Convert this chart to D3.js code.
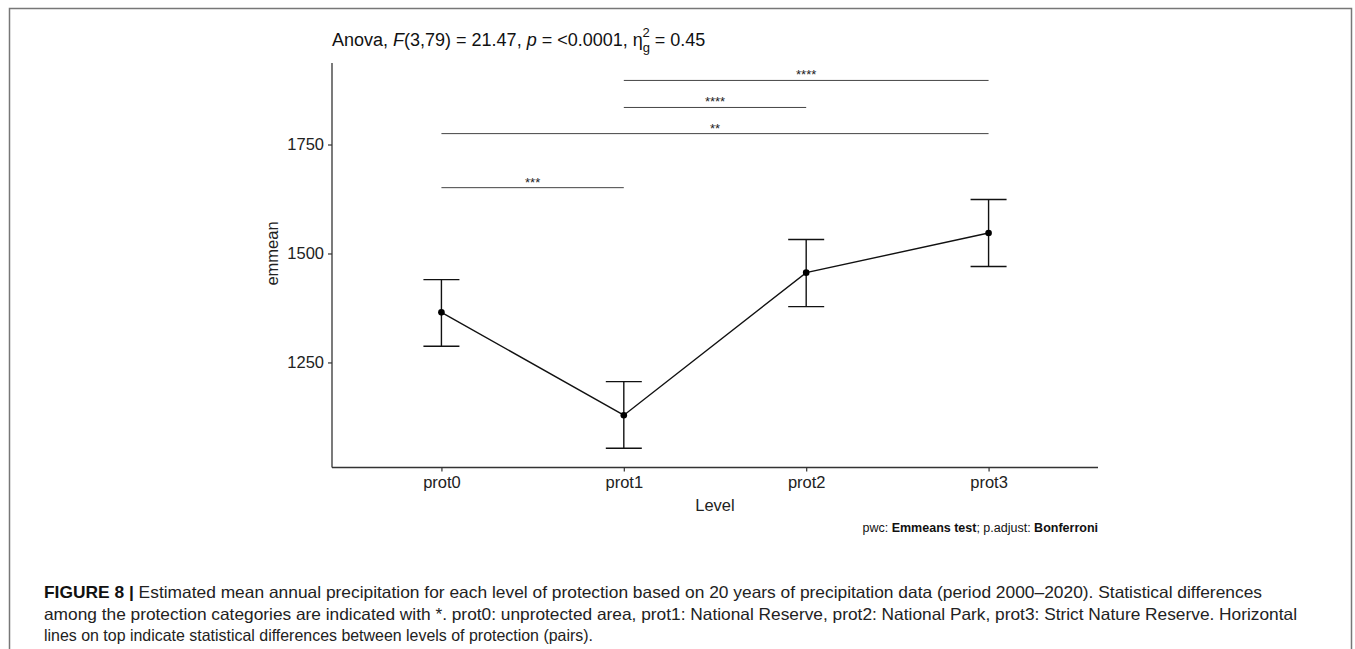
<!DOCTYPE html>
<html lang="en">

<head>
    <meta charset="utf-8">
    <title>Estimated mean annual precipitation</title>
    <script src="https://d3js.org/d3.v7.min.js"></script>
    <style>
        body { margin: 0; background: #fff; }
        text { font-family: "Liberation Sans", Arial, sans-serif; }
        .cap { font-family: "Liberation Sans", Arial, sans-serif; font-size: 16.5px; fill: #222; }
    </style>
</head>

<body>
    <svg width="1355" height="649"></svg>

    <script>
        // data
        const levels = ["prot0", "prot1", "prot2", "prot3"];
        const emmean = [1365, 1129, 1456, 1547];
        const lower = [1287, 1053, 1378, 1470];
        const upper = [1440, 1206, 1532, 1624];
        const yTicks = [1250, 1500, 1750];

        // pairwise comparison brackets
        const pairFrom = ["prot1", "prot1", "prot0", "prot0"];
        const pairTo = ["prot3", "prot2", "prot3", "prot1"];
        const pairY = [1897, 1835, 1775, 1651];
        const pairLabel = ["****", "****", "**", "***"];

        const captionLines = [
            "Estimated mean annual precipitation for each level of protection based on 20 years of precipitation data (period 2000\u20132020). Statistical differences",
            "among the protection categories are indicated with *. prot0: unprotected area, prot1: National Reserve, prot2: National Park, prot3: Strict Nature Reserve. Horizontal",
            "lines on top indicate statistical differences between levels of protection (pairs)."
        ];

        const svg = d3.select("svg");

        // outer frame of the figure
        svg.append("rect")
            .attr("x", 9.5).attr("y", 8.5)
            .attr("width", 1342).attr("height", 660)
            .attr("fill", "none")
            .attr("stroke", "#777")
            .attr("stroke-width", 1.5);

        const x = d3.scalePoint().domain(levels).range([332, 1098]).padding(0.6);
        const y = d3.scaleLinear().domain([1009, 1937]).range([467.5, 63]);

        // axes
        const xAxis = svg.append("g")
            .attr("transform", "translate(0,467.5)")
            .call(d3.axisBottom(x).tickSize(4).tickPadding(5));
        const yAxis = svg.append("g")
            .attr("transform", "translate(332,0)")
            .call(d3.axisLeft(y).tickValues(yTicks).tickFormat(d3.format("d")).tickSize(4).tickPadding(4));

        [xAxis, yAxis].forEach(a => {
            a.select(".domain").attr("stroke", "#333").attr("stroke-width", 1.3);
            a.selectAll(".tick line").attr("stroke", "#333").attr("stroke-width", 1.2);
            a.selectAll(".tick text")
                .attr("fill", "#222")
                .style("font-size", "16.5px")
                .style("font-family", "'Liberation Sans', Arial, sans-serif");
        });
        // remove outer ticks of the domain path
        xAxis.select(".domain").attr("d", "M332,0H1098");
        yAxis.select(".domain").attr("d", "M0,63V467.5");

        svg.append("text")
            .attr("x", 715).attr("y", 511)
            .attr("text-anchor", "middle")
            .attr("font-size", 16.5).attr("fill", "#222")
            .text("Level");

        svg.append("text")
            .attr("transform", "translate(278," + y(1500) + ") rotate(-90)")
            .attr("text-anchor", "middle")
            .attr("font-size", 16.5).attr("fill", "#222")
            .text("emmean");

        // error bars
        const bars = svg.append("g").attr("stroke", "#111").attr("stroke-width", 1.4);
        levels.forEach((l, i) => {
            const cx = x(l);
            bars.append("line")
                .attr("x1", cx).attr("x2", cx)
                .attr("y1", y(lower[i])).attr("y2", y(upper[i]));
            bars.append("line")
                .attr("x1", cx - 18).attr("x2", cx + 18)
                .attr("y1", y(lower[i])).attr("y2", y(lower[i]));
            bars.append("line")
                .attr("x1", cx - 18).attr("x2", cx + 18)
                .attr("y1", y(upper[i])).attr("y2", y(upper[i]));
        });

        // mean line and points
        const line = d3.line()
            .x((d, i) => x(levels[i]))
            .y(d => y(d));
        svg.append("path")
            .datum(emmean)
            .attr("d", line)
            .attr("fill", "none")
            .attr("stroke", "#111")
            .attr("stroke-width", 1.4);
        svg.append("g")
            .selectAll("circle")
            .data(emmean)
            .join("circle")
            .attr("cx", (d, i) => x(levels[i]))
            .attr("cy", d => y(d))
            .attr("r", 3.3)
            .attr("fill", "#000");

        // significance brackets
        const br = svg.append("g");
        pairY.forEach((v, i) => {
            br.append("line")
                .attr("x1", x(pairFrom[i])).attr("x2", x(pairTo[i]))
                .attr("y1", y(v)).attr("y2", y(v))
                .attr("stroke", "#444").attr("stroke-width", 1);
            br.append("text")
                .attr("x", (x(pairFrom[i]) + x(pairTo[i])) / 2)
                .attr("y", y(v) - 1)
                .attr("text-anchor", "middle")
                .attr("font-size", 13).attr("fill", "#222")
                .text(pairLabel[i]);
        });

        // title with italic stats and eta squared
        const title = svg.append("text")
            .attr("x", 332).attr("y", 46)
            .attr("font-size", 18).attr("fill", "#111");
        title.append("tspan").text("Anova, ");
        title.append("tspan").attr("font-style", "italic").text("F");
        title.append("tspan").text("(3,79) = 21.47, ");
        title.append("tspan").attr("font-style", "italic").text("p");
        title.append("tspan").text(" = <0.0001, \u03b7");
        title.append("tspan").attr("font-size", 13).attr("dy", 6).text("g");
        title.append("tspan").attr("font-size", 13).attr("dx", -7.5).attr("dy", -15).text("2");
        title.append("tspan").attr("dy", 9).text(" = 0.45");

        const sub = svg.append("text")
            .attr("x", 1098).attr("y", 532)
            .attr("text-anchor", "end")
            .attr("font-size", 12.5).attr("fill", "#111");
        sub.append("tspan").text("pwc: ");
        sub.append("tspan").attr("font-weight", "bold").text("Emmeans test");
        sub.append("tspan").text("; p.adjust: ");
        sub.append("tspan").attr("font-weight", "bold").text("Bonferroni");

        // figure caption
        const capY = [598, 620, 641];
        const capEnd = [1262, 1297, 593];
        captionLines.forEach((t, i) => {
            const tx = svg.append("text")
                .attr("class", "cap")
                .attr("x", 44).attr("y", capY[i]);
            if (i === 0) {
                tx.append("tspan").attr("font-weight", "bold").attr("fill", "#111").text("FIGURE 8 | ");
            }
            tx.append("tspan").text(t);
            tx.attr("textLength", capEnd[i] - 44).attr("lengthAdjust", "spacingAndGlyphs");
        });
    </script>
</body>

</html>
